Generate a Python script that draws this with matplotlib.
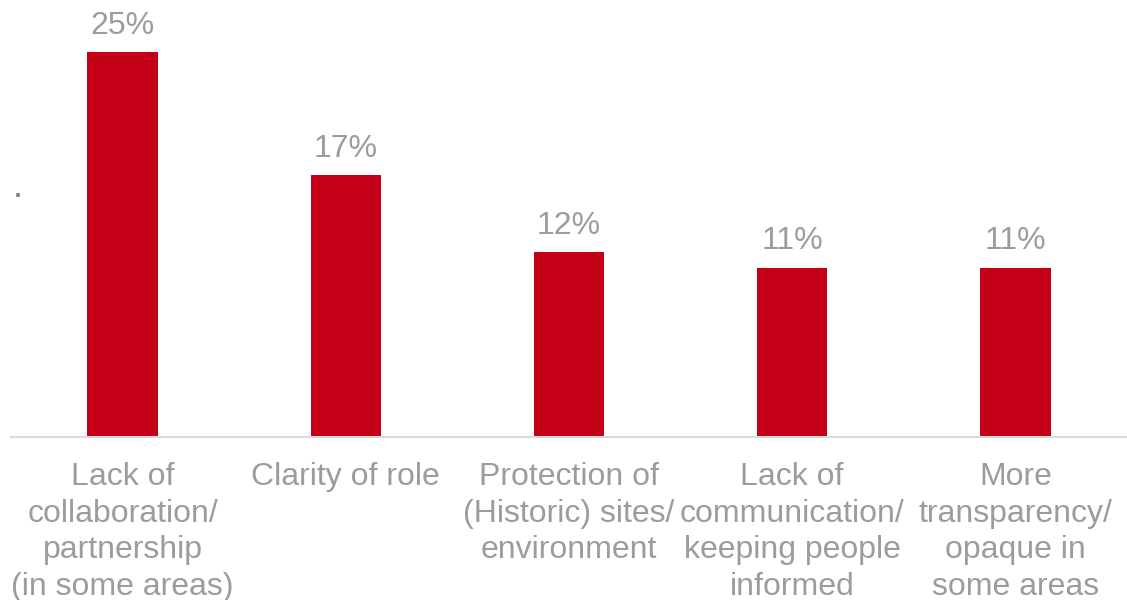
import matplotlib.pyplot as plt
import numpy as np

plt.rcParams['font.family'] = ['Liberation Sans', 'DejaVu Sans']

categories = ['Lack of\ncollaboration/\npartnership\n(in some areas)',
              'Clarity of role',
              'Protection of\n(Historic) sites/\nenvironment',
              'Lack of\ncommunication/\nkeeping people\ninformed',
              'More\ntransparency/\nopaque in\nsome areas']
values = [25, 17, 12, 11, 11]

red = '#C40019'
grey = '#9c9c9c'

fig = plt.figure(figsize=(11.27, 6), dpi=100)
ax = fig.add_axes([11 / 1127, 163 / 600, 1116 / 1127, 437 / 600])

x = np.arange(len(values))
bars = ax.bar(x, values, width=0.315, color=red)
ax.bar_label(bars, labels=[f'{v}%' for v in values], padding=8,
             fontsize=23, color=grey)

ax.set_xlim(-0.5, len(values) - 0.5)
ax.set_ylim(0, 437 / 15.4)
ax.set_xticks(x, categories, fontsize=23, color=grey, linespacing=1.29)
ax.tick_params(axis='x', length=0, pad=18)
ax.set_yticks([])
for side in ['top', 'right', 'left']:
    ax.spines[side].set_visible(False)
ax.spines['bottom'].set_color('#d9d9d9')
ax.spines['bottom'].set_linewidth(1.5)

# stray axis-title dot at the left edge
ax.text(0.002, 0.531, '.', transform=ax.transAxes, fontsize=26,
        color='#808080', ha='left', va='bottom')

fig.savefig('out.png', dpi=100)
